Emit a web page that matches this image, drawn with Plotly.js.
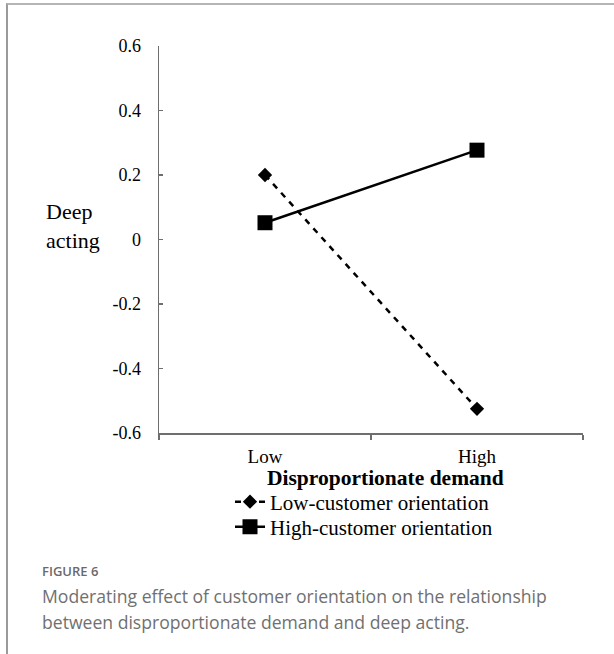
<!DOCTYPE html>
<html>
<head>
<meta charset="utf-8">
<script src="https://cdn.plot.ly/plotly-3.0.1.min.js"></script>
<style>
  html, body { margin: 0; padding: 0; background: #fff; }
  #wrap { position: relative; width: 614px; height: 654px; overflow: hidden; }
  #frame { position: absolute; left: 6px; top: 3px; width: 620px; height: 660px;
           border-top: 2px solid #b5b5b5; border-left: 2px solid #9a9a9a; box-sizing: border-box; }
  #chart { position: absolute; left: 0; top: 0; width: 614px; height: 654px; }
  .cap { position: absolute; left: 42px; font-family: "Open Sans", "Noto Sans", sans-serif; color: #707070; }
  #figlabel { top: 562px; font-size: 13px; font-weight: 600; color: #6a6a6a; }
  #captext { top: 583px; font-size: 17.6px; line-height: 26px; width: 570px; }
</style>
</head>
<body>
<div id="wrap">
  <div id="frame"></div>
  <div id="chart"></div>
  <div class="cap" id="figlabel">FIGURE 6</div>
  <div class="cap" id="captext">Moderating effect of customer orientation on the relationship between disproportionate demand and deep acting.</div>
</div>
<script>
const categories = ["Low", "High"];
const lowCustomer = [0.20, -0.525];
const highCustomer = [0.052, 0.277];
const seriesNames = ["Low-customer orientation", "High-customer orientation"];
const yTickVals = [-0.6, -0.4, -0.2, 0, 0.2, 0.4, 0.6];
const yTickText = ["-0.6", "-0.4", "-0.2", "0", "0.2", "0.4", "0.6"];
const xTitle = "Disproportionate demand";
const yTitle = "Deep<br>acting";

const serif = '"Liberation Serif", "Times New Roman", serif';

const traces = [
  {
    x: categories, y: lowCustomer, name: seriesNames[0], type: "scatter", mode: "lines+markers",
    line: { color: "#000", width: 2.5, dash: "6px,6px" },
    marker: { symbol: "diamond", size: 11, color: "#000" },
    legend: "legend"
  },
  {
    x: categories, y: highCustomer, name: seriesNames[1], type: "scatter", mode: "lines+markers",
    line: { color: "#000", width: 2.5 },
    marker: { symbol: "square", size: 15, color: "#000" },
    legend: "legend2"
  }
];

const legendBase = {
  x: (230 - 159) / 424, xanchor: "left", yanchor: "middle",
  font: { family: serif, size: 21, color: "#000" },
  bgcolor: "rgba(0,0,0,0)", itemwidth: 30
};

const layout = {
  width: 614, height: 654,
  margin: { l: 159, r: 31, t: 46, b: 221 },
  paper_bgcolor: "rgba(0,0,0,0)",
  plot_bgcolor: "rgba(0,0,0,0)",
  showlegend: true,
  font: { family: serif, color: "#000" },
  xaxis: {
    type: "category", range: [-0.5, 1.5],
    showline: true, linecolor: "#6e6e6e", linewidth: 1.5,
    ticks: "outside", tickson: "boundaries", ticklen: 5, tickcolor: "#6e6e6e", tickwidth: 1.5,
    showgrid: false, zeroline: false,
    tickfont: { family: serif, size: 19, color: "#000" },
    ticklabelstandoff: 6
  },
  yaxis: {
    range: [-0.6, 0.6],
    tickvals: yTickVals, ticktext: yTickText,
    showline: true, linecolor: "#6e6e6e", linewidth: 1.5,
    ticks: "inside", ticklen: 4, tickcolor: "#6e6e6e", tickwidth: 1.5,
    showgrid: false, zeroline: false,
    tickfont: { family: serif, size: 18, color: "#000" },
    ticklabelstandoff: 13
  },
  legend: Object.assign({}, legendBase, { y: (433 - 502) / 387 }),
  legend2: Object.assign({}, legendBase, { y: (433 - 527) / 387 }),
  annotations: [
    {
      text: "<b>" + xTitle + "</b>", xref: "paper", yref: "paper",
      x: (385 - 159) / 424, y: (433 - 478) / 387, xanchor: "center", yanchor: "middle",
      showarrow: false, font: { family: serif, size: 21.5, color: "#000" }
    },
    {
      text: yTitle, xref: "paper", yref: "paper", align: "left",
      x: (44 - 159) / 424, y: (433 - 226) / 387, xanchor: "left", yanchor: "middle",
      showarrow: false, font: { family: serif, size: 22, color: "#000" }
    }
  ]
};

Plotly.newPlot("chart", traces, layout, { displayModeBar: false, staticPlot: true });
</script>
</body>
</html>
